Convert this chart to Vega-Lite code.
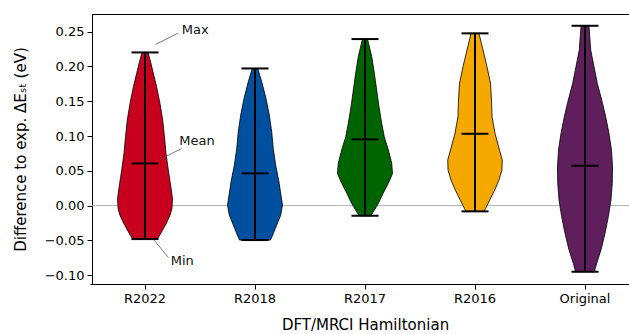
{
  "$schema": "https://vega.github.io/schema/vega-lite/v6.json",
  "autosize": {"type": "none"},
  "padding": {"left": 92, "top": 14, "right": 0, "bottom": 50},
  "width": 537,
  "height": 270,
  "background": "white",
  "config": {
    "view": {"stroke": "#000", "strokeWidth": 1},
    "font": "DejaVu Sans",
    "axis": {
      "labelFont": "DejaVu Sans", "labelFontSize": 13, "labelColor": "#000",
      "titleFont": "DejaVu Sans", "titleFontSize": 15, "titleFontWeight": "normal", "titleColor": "#000",
      "domainColor": "#000", "domainWidth": 1, "tickColor": "#000", "tickSize": 5, "tickWidth": 1, "grid": false
    }
  },
  "datasets": {
    "outline": [
      {"c":"R2022","i":0,"y":0.220,"w":0.027},{"c":"R2022","i":1,"y":0.207,"w":0.05},{"c":"R2022","i":2,"y":0.195,"w":0.068},{"c":"R2022","i":3,"y":0.171,"w":0.105},
      {"c":"R2022","i":4,"y":0.147,"w":0.136},{"c":"R2022","i":5,"y":0.123,"w":0.161},{"c":"R2022","i":6,"y":0.099,"w":0.177},{"c":"R2022","i":7,"y":0.075,"w":0.191},
      {"c":"R2022","i":8,"y":0.051,"w":0.212},{"c":"R2022","i":9,"y":0.027,"w":0.235},{"c":"R2022","i":10,"y":0.010,"w":0.25},{"c":"R2022","i":11,"y":-0.004,"w":0.245},
      {"c":"R2022","i":12,"y":-0.014,"w":0.227},{"c":"R2022","i":13,"y":-0.025,"w":0.195},{"c":"R2022","i":14,"y":-0.040,"w":0.143},{"c":"R2022","i":15,"y":-0.048,"w":0.112},
      {"c":"R2022","i":16,"y":-0.048,"w":-0.112},{"c":"R2022","i":17,"y":-0.040,"w":-0.143},{"c":"R2022","i":18,"y":-0.025,"w":-0.195},{"c":"R2022","i":19,"y":-0.014,"w":-0.227},
      {"c":"R2022","i":20,"y":-0.004,"w":-0.245},{"c":"R2022","i":21,"y":0.010,"w":-0.25},{"c":"R2022","i":22,"y":0.027,"w":-0.235},{"c":"R2022","i":23,"y":0.051,"w":-0.212},
      {"c":"R2022","i":24,"y":0.075,"w":-0.191},{"c":"R2022","i":25,"y":0.099,"w":-0.177},{"c":"R2022","i":26,"y":0.123,"w":-0.161},{"c":"R2022","i":27,"y":0.147,"w":-0.136},
      {"c":"R2022","i":28,"y":0.171,"w":-0.105},{"c":"R2022","i":29,"y":0.195,"w":-0.068},{"c":"R2022","i":30,"y":0.207,"w":-0.05},{"c":"R2022","i":31,"y":0.220,"w":-0.027},
      {"c":"R2022","i":32,"y":0.220,"w":0.027},

      {"c":"R2018","i":0,"y":0.197,"w":0.025},{"c":"R2018","i":1,"y":0.178,"w":0.061},{"c":"R2018","i":2,"y":0.154,"w":0.1},{"c":"R2018","i":3,"y":0.130,"w":0.13},
      {"c":"R2018","i":4,"y":0.106,"w":0.152},{"c":"R2018","i":5,"y":0.082,"w":0.166},{"c":"R2018","i":6,"y":0.058,"w":0.188},{"c":"R2018","i":7,"y":0.034,"w":0.218},
      {"c":"R2018","i":8,"y":0.015,"w":0.236},{"c":"R2018","i":9,"y":0.001,"w":0.25},{"c":"R2018","i":10,"y":-0.0135,"w":0.234},{"c":"R2018","i":11,"y":-0.028,"w":0.197},
      {"c":"R2018","i":12,"y":-0.042,"w":0.161},{"c":"R2018","i":13,"y":-0.0494,"w":0.141},
      {"c":"R2018","i":14,"y":-0.0494,"w":-0.141},{"c":"R2018","i":15,"y":-0.042,"w":-0.161},{"c":"R2018","i":16,"y":-0.028,"w":-0.197},{"c":"R2018","i":17,"y":-0.0135,"w":-0.234},
      {"c":"R2018","i":18,"y":0.001,"w":-0.25},{"c":"R2018","i":19,"y":0.015,"w":-0.236},{"c":"R2018","i":20,"y":0.034,"w":-0.218},{"c":"R2018","i":21,"y":0.058,"w":-0.188},
      {"c":"R2018","i":22,"y":0.082,"w":-0.166},{"c":"R2018","i":23,"y":0.106,"w":-0.152},{"c":"R2018","i":24,"y":0.130,"w":-0.13},{"c":"R2018","i":25,"y":0.154,"w":-0.1},
      {"c":"R2018","i":26,"y":0.178,"w":-0.061},{"c":"R2018","i":27,"y":0.197,"w":-0.025},{"c":"R2018","i":28,"y":0.197,"w":0.025},

      {"c":"R2017","i":0,"y":0.2392,"w":0.023},{"c":"R2017","i":1,"y":0.214,"w":0.061},{"c":"R2017","i":2,"y":0.190,"w":0.085},{"c":"R2017","i":3,"y":0.166,"w":0.106},
      {"c":"R2017","i":4,"y":0.142,"w":0.127},{"c":"R2017","i":5,"y":0.118,"w":0.152},{"c":"R2017","i":6,"y":0.099,"w":0.175},{"c":"R2017","i":7,"y":0.080,"w":0.212},
      {"c":"R2017","i":8,"y":0.061,"w":0.243},{"c":"R2017","i":9,"y":0.046,"w":0.25},{"c":"R2017","i":10,"y":0.032,"w":0.212},{"c":"R2017","i":11,"y":0.018,"w":0.166},
      {"c":"R2017","i":12,"y":0.003,"w":0.121},{"c":"R2017","i":13,"y":-0.009,"w":0.075},{"c":"R2017","i":14,"y":-0.0145,"w":0.052},
      {"c":"R2017","i":15,"y":-0.0145,"w":-0.052},{"c":"R2017","i":16,"y":-0.009,"w":-0.075},{"c":"R2017","i":17,"y":0.003,"w":-0.121},{"c":"R2017","i":18,"y":0.018,"w":-0.166},
      {"c":"R2017","i":19,"y":0.032,"w":-0.212},{"c":"R2017","i":20,"y":0.046,"w":-0.25},{"c":"R2017","i":21,"y":0.061,"w":-0.243},{"c":"R2017","i":22,"y":0.080,"w":-0.212},
      {"c":"R2017","i":23,"y":0.099,"w":-0.175},{"c":"R2017","i":24,"y":0.118,"w":-0.152},{"c":"R2017","i":25,"y":0.142,"w":-0.127},{"c":"R2017","i":26,"y":0.166,"w":-0.106},
      {"c":"R2017","i":27,"y":0.190,"w":-0.085},{"c":"R2017","i":28,"y":0.214,"w":-0.061},{"c":"R2017","i":29,"y":0.2392,"w":-0.023},{"c":"R2017","i":30,"y":0.2392,"w":0.023},

      {"c":"R2016","i":0,"y":0.2474,"w":0.036},{"c":"R2016","i":1,"y":0.2234,"w":0.073},{"c":"R2016","i":2,"y":0.1995,"w":0.109},{"c":"R2016","i":3,"y":0.1756,"w":0.141},
      {"c":"R2016","i":4,"y":0.1516,"w":0.15},{"c":"R2016","i":5,"y":0.1277,"w":0.155},{"c":"R2016","i":6,"y":0.1038,"w":0.182},{"c":"R2016","i":7,"y":0.0798,"w":0.223},
      {"c":"R2016","i":8,"y":0.0655,"w":0.248},{"c":"R2016","i":9,"y":0.0511,"w":0.245},{"c":"R2016","i":10,"y":0.0368,"w":0.218},{"c":"R2016","i":11,"y":0.0224,"w":0.179},
      {"c":"R2016","i":12,"y":0.008,"w":0.134},{"c":"R2016","i":13,"y":-0.0039,"w":0.097},{"c":"R2016","i":14,"y":-0.0082,"w":0.082},
      {"c":"R2016","i":15,"y":-0.0082,"w":-0.082},{"c":"R2016","i":16,"y":-0.0039,"w":-0.097},{"c":"R2016","i":17,"y":0.008,"w":-0.134},{"c":"R2016","i":18,"y":0.0224,"w":-0.179},
      {"c":"R2016","i":19,"y":0.0368,"w":-0.218},{"c":"R2016","i":20,"y":0.0511,"w":-0.245},{"c":"R2016","i":21,"y":0.0655,"w":-0.248},{"c":"R2016","i":22,"y":0.0798,"w":-0.223},
      {"c":"R2016","i":23,"y":0.1038,"w":-0.182},{"c":"R2016","i":24,"y":0.1277,"w":-0.155},{"c":"R2016","i":25,"y":0.1516,"w":-0.15},{"c":"R2016","i":26,"y":0.1756,"w":-0.141},
      {"c":"R2016","i":27,"y":0.1995,"w":-0.109},{"c":"R2016","i":28,"y":0.2234,"w":-0.073},{"c":"R2016","i":29,"y":0.2474,"w":-0.036},{"c":"R2016","i":30,"y":0.2474,"w":0.036},

      {"c":"Original","i":0,"y":0.2583,"w":0.036},{"c":"Original","i":1,"y":0.2234,"w":0.052},{"c":"Original","i":2,"y":0.1995,"w":0.082},{"c":"Original","i":3,"y":0.1756,"w":0.112},
      {"c":"Original","i":4,"y":0.1516,"w":0.152},{"c":"Original","i":5,"y":0.1277,"w":0.188},{"c":"Original","i":6,"y":0.1038,"w":0.218},{"c":"Original","i":7,"y":0.0798,"w":0.241},
      {"c":"Original","i":8,"y":0.0559,"w":0.25},{"c":"Original","i":9,"y":0.032,"w":0.248},{"c":"Original","i":10,"y":0.008,"w":0.236},{"c":"Original","i":11,"y":-0.0159,"w":0.212},
      {"c":"Original","i":12,"y":-0.0398,"w":0.182},{"c":"Original","i":13,"y":-0.0638,"w":0.145},{"c":"Original","i":14,"y":-0.0829,"w":0.106},{"c":"Original","i":15,"y":-0.0949,"w":0.085},
      {"c":"Original","i":16,"y":-0.0949,"w":-0.085},{"c":"Original","i":17,"y":-0.0829,"w":-0.106},{"c":"Original","i":18,"y":-0.0638,"w":-0.145},{"c":"Original","i":19,"y":-0.0398,"w":-0.182},
      {"c":"Original","i":20,"y":-0.0159,"w":-0.212},{"c":"Original","i":21,"y":0.008,"w":-0.236},{"c":"Original","i":22,"y":0.032,"w":-0.248},{"c":"Original","i":23,"y":0.0559,"w":-0.25},
      {"c":"Original","i":24,"y":0.0798,"w":-0.241},{"c":"Original","i":25,"y":0.1038,"w":-0.218},{"c":"Original","i":26,"y":0.1277,"w":-0.188},{"c":"Original","i":27,"y":0.1516,"w":-0.152},
      {"c":"Original","i":28,"y":0.1756,"w":-0.112},{"c":"Original","i":29,"y":0.1995,"w":-0.082},{"c":"Original","i":30,"y":0.2234,"w":-0.052},{"c":"Original","i":31,"y":0.2583,"w":-0.036},
      {"c":"Original","i":32,"y":0.2583,"w":0.036}
    ],
    "stats": [
      {"c":"R2022","min":-0.048,"max":0.220,"mean":0.0606},
      {"c":"R2018","min":-0.0494,"max":0.197,"mean":0.0464},
      {"c":"R2017","min":-0.0145,"max":0.2392,"mean":0.0952},
      {"c":"R2016","min":-0.0082,"max":0.2474,"mean":0.1032},
      {"c":"Original","min":-0.0949,"max":0.2583,"mean":0.0573}
    ],
    "lead": [
      {"a":"Max","c":"R2022","k":0,"o":0.097,"y":0.2316},{"a":"Max","c":"R2022","k":1,"o":0.297,"y":0.2474},
      {"a":"Mean","c":"R2022","k":0,"o":0.136,"y":0.0662},{"a":"Mean","c":"R2022","k":1,"o":0.332,"y":0.082},
      {"a":"Min","c":"R2022","k":0,"o":0.082,"y":-0.0494},{"a":"Min","c":"R2022","k":1,"o":0.212,"y":-0.0742}
    ],
    "notes": [
      {"a":"Max","c":"R2022","o":0.334,"y":0.2529},
      {"a":"Mean","c":"R2022","o":0.312,"y":0.0923},
      {"a":"Min","c":"R2022","o":0.234,"y":-0.0796}
    ]
  },
  "encoding": {
    "x": {"field": "c", "type": "nominal",
      "scale": {"type": "band", "domain": ["R2022","R2018","R2017","R2016","Original"], "range": [-2, 548], "paddingInner": 0, "paddingOuter": 0},
      "axis": {"title": "DFT/MRCI Hamiltonian", "labelAngle": 0, "labelPadding": 3, "titlePadding": 12}},
    "y": {"type": "quantitative",
      "scale": {"domain": [-0.1125, 0.2752], "nice": false, "zero": false},
      "axis": {"title": "Difference to exp. ΔEₛₜ (eV)", "values": [-0.10,-0.05,0,0.05,0.10,0.15,0.20,0.25], "format": ".2f", "labelPadding": 3, "titlePadding": 16}}
  },
  "layer": [
    {
      "data": {"values": [{"z": 0}]},
      "mark": {"type": "rule", "color": "#b0b0b0", "strokeWidth": 1},
      "encoding": {"x": null, "y": {"field": "z", "type": "quantitative"}}
    },
    {
      "data": {"name": "outline"},
      "mark": {"type": "line", "filled": true, "stroke": "#000", "strokeWidth": 0.8, "strokeJoin": "round"},
      "encoding": {
        "y": {"field": "y", "type": "quantitative"},
        "xOffset": {"field": "w", "type": "quantitative", "scale": {"domain": [-0.5, 0.5]}},
        "order": {"field": "i", "type": "quantitative"},
        "color": {"field": "c", "type": "nominal", "legend": null,
          "scale": {"domain": ["R2022","R2018","R2017","R2016","Original"], "range": ["#c8001e", "#00509f", "#006400", "#f5a800", "#5e1f5c"]}},
        "fillOpacity": {"value": 1}
      }
    },
    {
      "data": {"name": "stats"},
      "mark": {"type": "rule", "color": "#000", "strokeWidth": 2},
      "encoding": {"y": {"field": "min", "type": "quantitative"}, "y2": {"field": "max"}}
    },
    {
      "data": {"name": "stats"},
      "mark": {"type": "tick", "color": "#000", "size": 27, "thickness": 2, "opacity": 1},
      "encoding": {"y": {"field": "min", "type": "quantitative"}}
    },
    {
      "data": {"name": "stats"},
      "mark": {"type": "tick", "color": "#000", "size": 27, "thickness": 2, "opacity": 1},
      "encoding": {"y": {"field": "max", "type": "quantitative"}}
    },
    {
      "data": {"name": "stats"},
      "mark": {"type": "tick", "color": "#000", "size": 27, "thickness": 2, "opacity": 1},
      "encoding": {"y": {"field": "mean", "type": "quantitative"}}
    },
    {
      "data": {"name": "lead"},
      "mark": {"type": "line", "color": "#555", "strokeWidth": 0.8},
      "encoding": {
        "y": {"field": "y", "type": "quantitative"},
        "xOffset": {"field": "o", "type": "quantitative"},
        "detail": {"field": "a"},
        "order": {"field": "k", "type": "quantitative"}
      }
    },
    {
      "data": {"name": "notes"},
      "mark": {"type": "text", "align": "left", "baseline": "middle", "font": "DejaVu Sans", "fontSize": 13, "color": "#111"},
      "encoding": {
        "y": {"field": "y", "type": "quantitative"},
        "xOffset": {"field": "o", "type": "quantitative"},
        "text": {"field": "a"}
      }
    }
  ]
}
